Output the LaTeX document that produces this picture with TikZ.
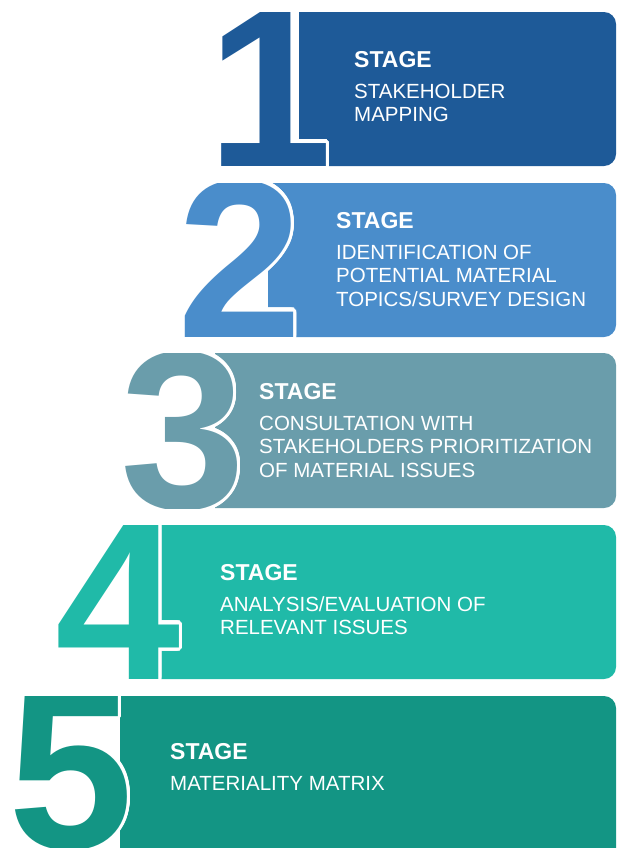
\documentclass[tikz,border=0pt]{standalone}
\usepackage{fontspec}
\setmainfont{Liberation Sans}
\usepackage{tikz}
\usetikzlibrary{positioning}

\definecolor{stageone}{HTML}{1E5A98}
\definecolor{stagetwo}{HTML}{4A8DCB}
\definecolor{stagethree}{HTML}{6A9DAB}
\definecolor{stagefour}{HTML}{20BAA8}
\definecolor{stagefive}{HTML}{139584}

\newcommand{\stagehead}{{\fontsize{23bp}{23bp}\selectfont\bfseries STAGE}\\[7bp]}

% big number, white rim, clipped to its band
\newcommand{\stagedigit}[6]{%
  \begin{scope}
    \clip (0,#5) rectangle (618,#6);
    \foreach \a in {0,15,...,345}
      \node[digit, text=white] at ([shift={(\a:3.5)}]#4,#6) {#3};
    \node[digit, text=#2] (#1) at (#4,#6) {#3};
  \end{scope}}

\begin{document}
\begin{tikzpicture}[x=1bp,y=-1bp]
  \tikzstyle{digit}=[anchor=base west,inner sep=0pt,
                     font=\fontsize{225bp}{225bp}\selectfont\bfseries]
  \tikzstyle{stagetext}=[anchor=west,align=left,inner sep=0pt,text=white,
                         font=\fontsize{20.5bp}{23.5bp}\selectfont]

  \useasboundingbox (0,0) rectangle (618,848);

  % bands
  \fill[stageone]   (299,12)  [rounded corners=12bp] -- (616,12)  -- (616,166) [sharp corners] -- (299,166) -- cycle;
  \fill[stagetwo]   (268,183) [rounded corners=12bp] -- (616,183) -- (616,337) [sharp corners] -- (268,337) -- cycle;
  \fill[stagethree] (215,353) [rounded corners=12bp] -- (616,353) -- (616,508) [sharp corners] -- (215,508) -- cycle;
  \fill[stagefour]  (155,525) [rounded corners=12bp] -- (616,525) -- (616,679) [sharp corners] -- (155,679) -- cycle;
  \fill[stagefive]  (120,696) [rounded corners=12bp] -- (616,696) -- (616,860) [sharp corners] -- (120,860) -- cycle;

  % numbers
  \stagedigit{n1}{stageone}{1}{207}{12}{166}
  \stagedigit{n2}{stagetwo}{2}{177}{183}{337}
  \stagedigit{n3}{stagethree}{3}{120}{353}{508}
  \stagedigit{n4}{stagefour}{4}{55}{525}{679}
  \stagedigit{n5}{stagefive}{5}{8}{696}{848}

  % texts
  \node[stagetext] (t1) at (354,87)    {\stagehead STAKEHOLDER\\MAPPING};
  \node[stagetext] (t2) at (336,259.5) {\stagehead IDENTIFICATION OF\\POTENTIAL MATERIAL\\TOPICS/SURVEY DESIGN};
  \node[stagetext] (t3) at (259,430.5) {\stagehead CONSULTATION WITH\\STAKEHOLDERS PRIORITIZATION\\OF MATERIAL ISSUES};
  \node[stagetext] (t4) at (220,600)   {\stagehead ANALYSIS/EVALUATION OF\\RELEVANT ISSUES};
  \node[stagetext] (t5) at (170,767)   {\stagehead MATERIALITY MATRIX};
\end{tikzpicture}
\end{document}
